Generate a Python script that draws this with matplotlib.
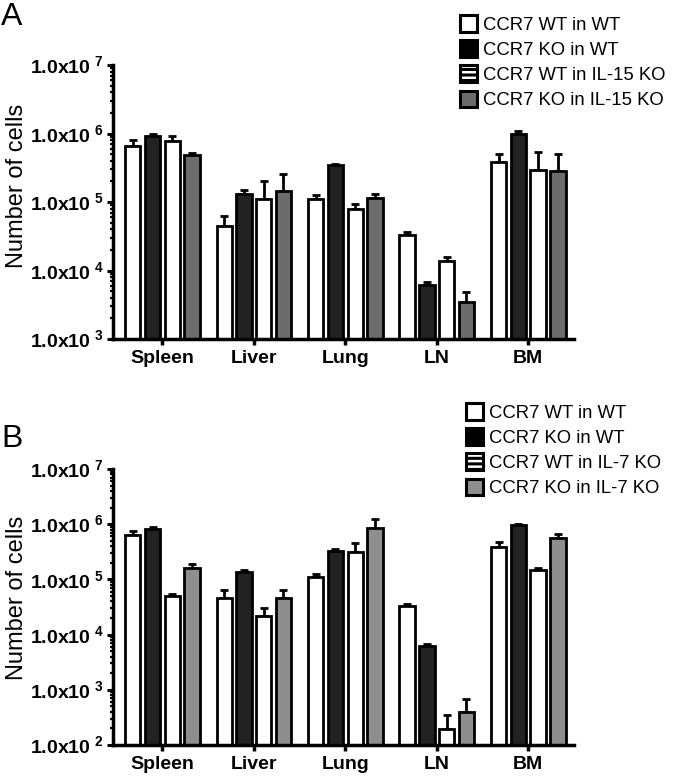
import numpy as np
import matplotlib
matplotlib.use("Agg")
import matplotlib.pyplot as plt
from matplotlib.patches import Patch
from matplotlib.ticker import LogLocator, FuncFormatter, NullFormatter

plt.rcParams['font.family'] = ['Liberation Sans', 'DejaVu Sans']
plt.rcParams['mathtext.fontset'] = 'custom'
plt.rcParams['mathtext.rm'] = 'Liberation Sans'
plt.rcParams['mathtext.bf'] = 'Liberation Sans:bold'
plt.rcParams['hatch.linewidth'] = 2.2

tissues = ['Spleen', 'Liver', 'Lung', 'LN', 'BM']

# panel A (IL-15 KO hosts): bar means and tops of the error bars
a_labels = ['CCR7 WT in WT', 'CCR7 KO in WT', 'CCR7 WT in IL-15 KO', 'CCR7 KO in IL-15 KO']
a_wt_wt = [6.5e5, 4.5e4, 1.1e5, 3.25e4, 3.9e5]
a_wt_wt_err = [8.0e5, 6.3e4, 1.26e5, 3.6e4, 5.1e5]
a_ko_wt = [9.1e5, 1.31e5, 3.5e5, 6.2e3, 1.0e6]
a_ko_wt_err = [1.0e6, 1.5e5, 3.6e5, 6.8e3, 1.08e6]
a_wt_ko = [7.7e5, 1.1e5, 7.9e4, 1.36e4, 2.9e5]
a_wt_ko_err = [9.1e5, 2.0e5, 9.2e4, 1.6e4, 5.3e5]
a_ko_ko = [4.9e5, 1.43e5, 1.15e5, 3.5e3, 2.8e5]
a_ko_ko_err = [5.2e5, 2.6e5, 1.32e5, 4.9e3, 5.0e5]

# panel B (IL-7 KO hosts)
b_labels = ['CCR7 WT in WT', 'CCR7 KO in WT', 'CCR7 WT in IL-7 KO', 'CCR7 KO in IL-7 KO']
b_wt_wt = [6.3e5, 4.7e4, 1.12e5, 3.25e4, 3.8e5]
b_wt_wt_err = [7.6e5, 6.4e4, 1.25e5, 3.6e4, 4.8e5]
b_ko_wt = [8.2e5, 1.36e5, 3.3e5, 6.1e3, 9.5e5]
b_ko_wt_err = [9.0e5, 1.48e5, 3.5e5, 6.8e3, 1.02e6]
b_wt_ko = [5.0e4, 2.2e4, 3.1e5, 195, 1.48e5]
b_wt_ko_err = [5.5e4, 3.0e4, 4.6e5, 355, 1.59e5]
b_ko_ko = [1.59e5, 4.7e4, 8.7e5, 390, 5.6e5]
b_ko_ko_err = [1.9e5, 6.4e4, 1.23e6, 685, 6.7e5]

W = 674
H = 780
fig = plt.figure(figsize=(W / 100, H / 100), dpi=100)


def fmt(v, pos):
    e = int(round(np.log10(v)))
    return r'$\mathbf{1.0x10}^{\ \mathbf{%d}}$' % e


def panel(rect, series, errs, colors, ymin, labels, legend_xy, grey):
    ax = fig.add_axes(rect)
    x = np.arange(len(tissues))
    pitch = 0.216
    for i in range(4):
        xs = x + (i - 1.5) * pitch
        vals = np.array(series[i])
        tops = np.array(errs[i])
        ax.errorbar(xs, vals, yerr=[np.zeros_like(vals), tops - vals], fmt='none',
                    ecolor='black', elinewidth=2, capsize=2.8, capthick=2, zorder=1)
        ax.bar(xs, vals - ymin, bottom=ymin, width=0.168, color=colors[i],
               edgecolor='black', linewidth=2, zorder=2)
    ax.set_yscale('log')
    ax.set_ylim(ymin, 1e7)
    ax.set_xlim(-0.54, 4.5)
    ax.spines['top'].set_visible(False)
    ax.spines['right'].set_visible(False)
    ax.spines['left'].set_linewidth(2.5)
    ax.spines['bottom'].set_linewidth(2.5)
    ax.yaxis.set_major_locator(LogLocator(base=10, numticks=10))
    ax.yaxis.set_minor_locator(LogLocator(base=10, subs=np.arange(2, 10), numticks=20))
    ax.yaxis.set_major_formatter(FuncFormatter(fmt))
    ax.yaxis.set_minor_formatter(NullFormatter())
    ax.tick_params(axis='y', which='major', length=4, width=2.2, pad=3, labelsize=14)
    ax.tick_params(axis='y', which='minor', length=2.5, width=1.6)
    ax.set_xticks(x)
    ax.set_xticklabels(tissues, fontweight='bold', fontsize=14)
    ax.tick_params(axis='x', length=4, width=2.5, pad=4)
    handles = [
        Patch(facecolor='white', edgecolor='black', linewidth=2.2),
        Patch(facecolor='black', edgecolor='black', linewidth=2.2),
        Patch(facecolor='white', edgecolor='black', linewidth=2.2, hatch='---'),
        Patch(facecolor=grey, edgecolor='black', linewidth=2.2),
    ]
    fig.legend(handles, labels, loc='upper left', bbox_to_anchor=legend_xy,
               frameon=False, fontsize=13.3, handlelength=0.9, handleheight=1.0,
               handletextpad=0.35, labelspacing=0.36, borderpad=0, borderaxespad=0)
    return ax


grey_a = '#6c6c6c'
grey_b = '#8e8e8e'
dark = '#222222'

axA = panel([113 / W, 1 - 339 / H, 461 / W, 274 / H],
            [a_wt_wt, a_ko_wt, a_wt_ko, a_ko_ko],
            [a_wt_wt_err, a_ko_wt_err, a_wt_ko_err, a_ko_ko_err],
            ['white', dark, 'white', grey_a], 1e3, a_labels,
            (460 / W, 1 - 15 / H), grey_a)
axB = panel([113 / W, 1 - 745 / H, 461 / W, 276 / H],
            [b_wt_wt, b_ko_wt, b_wt_ko, b_ko_ko],
            [b_wt_wt_err, b_ko_wt_err, b_wt_ko_err, b_ko_ko_err],
            ['white', dark, 'white', grey_b], 1e2, b_labels,
            (466 / W, 1 - 403 / H), grey_b)

fig.text(17 / W, 1 - 186 / H, 'Number of cells', rotation=90, ha='center', va='center', fontsize=17)
fig.text(17 / W, 1 - 598 / H, 'Number of cells', rotation=90, ha='center', va='center', fontsize=17)
fig.text(1 / W, 1 - 17 / H, 'A', ha='left', va='center', fontsize=23)
fig.text(1 / W, 1 - 439 / H, 'B', ha='left', va='center', fontsize=23)

fig.savefig('out.png', dpi=100)
